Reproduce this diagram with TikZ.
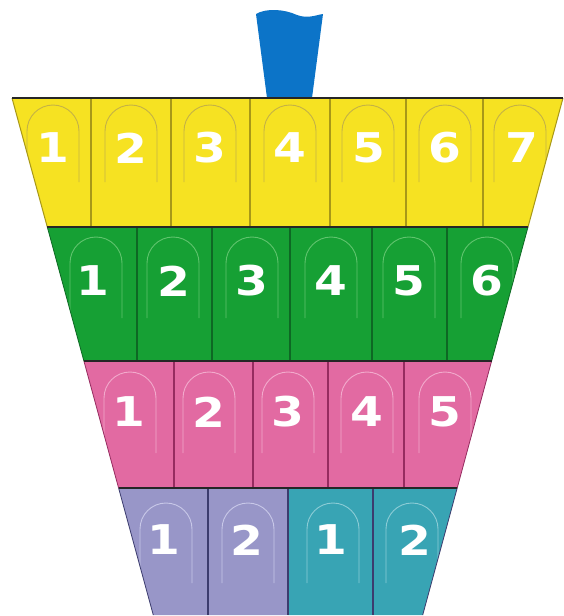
\documentclass[tikz,border=0pt]{standalone}
\usepackage{fontspec}
\newfontfamily\digfont{DejaVu Sans}
\definecolor{flagblue}{RGB}{12,116,200}
\definecolor{rowyellow}{RGB}{246,226,34}
\definecolor{rowgreen}{RGB}{22,160,52}
\definecolor{rowpink}{RGB}{226,106,162}
\definecolor{rowlav}{RGB}{152,150,200}
\definecolor{rowteal}{RGB}{56,164,180}
\definecolor{divyellow}{RGB}{168,152,24}
\definecolor{divgreen}{RGB}{14,104,36}
\definecolor{divpink}{RGB}{150,44,96}
\definecolor{divbot}{RGB}{60,60,110}
\definecolor{archyellow}{RGB}{196,178,70}
\definecolor{archgreen}{RGB}{96,196,110}
\definecolor{archpink}{RGB}{242,170,204}
\definecolor{archlav}{RGB}{200,200,232}
\definecolor{archteal}{RGB}{140,204,214}
\tikzset{
  digit/.style={text=white, inner sep=0pt, xscale=1.15,
    font=\digfont\bfseries\fontsize{41}{41}\selectfont},
  rowedge/.style={draw=black!85, line width=1.1pt},
  divider/.style={line width=1.4pt},
  archline/.style={line width=0.9pt},
}
\newcommand{\archat}[4]{% cx, top, bottom, colour
  \draw[archline, #4] (#1-26,#3) -- (#1-26,#2+26) arc[start angle=180, end angle=360, radius=26] -- (#1+26,#3);}
\begin{document}
\begin{tikzpicture}[x=1pt, y=-1pt]
\useasboundingbox (0,0) rectangle (564,616);
\fill[white] (0,0) rectangle (564,616);
% flag
\fill[flagblue] (256,14) .. controls (266,8) and (284,9) .. (297,15)
  .. controls (308,19) and (316,15) .. (323,14) -- (312,98) -- (267,98) -- cycle;
% rows
\fill[rowyellow] (12,98) -- (563,98) -- (528,227) -- (47.3,227) -- cycle;
\fill[rowgreen] (47.3,227) -- (528,227) -- (491.6,361) -- (83.9,361) -- cycle;
\fill[rowpink] (83.9,361) -- (491.6,361) -- (457.2,488) -- (118.6,488) -- cycle;
\fill[rowlav] (118.6,488) -- (288,488) -- (288,615) -- (153.3,615) -- cycle;
\fill[rowteal] (288,488) -- (457.2,488) -- (422.7,615) -- (288,615) -- cycle;
% dividers
\foreach \x in {91,171,250,330,406,483} \draw[divider, divyellow] (\x,98) -- (\x,227);
\foreach \x in {137,212,290,372,447} \draw[divider, divgreen] (\x,227) -- (\x,361);
\foreach \x in {174,253,328,404} \draw[divider, divpink] (\x,361) -- (\x,488);
\foreach \x in {208,288,373} \draw[divider, divbot] (\x,488) -- (\x,615);
% arches (clipped to the outline)
\begin{scope}
\clip (12,98) -- (563,98) -- (422.7,615) -- (153.3,615) -- cycle;
\foreach \x in {53,131,210,290,368,445,520} \archat{\x}{105}{182}{archyellow};
\foreach \x in {96,173,252,331,409,487} \archat{\x}{237}{318}{archgreen};
\foreach \x in {130,209,288,367,445} \archat{\x}{372}{453}{archpink};
\foreach \x in {166,248} \archat{\x}{503}{583}{archlav};
\foreach \x in {333,412} \archat{\x}{503}{583}{archteal};
\end{scope}
% outlines
\draw[divyellow, line width=1pt] (12,98) -- (47.3,227) (563,98) -- (528,227);
\draw[divgreen, line width=0.8pt] (47.3,227) -- (83.9,361) (528,227) -- (491.6,361);
\draw[divpink, line width=0.8pt] (83.9,361) -- (118.6,488) (491.6,361) -- (457.2,488);
\draw[divbot, line width=0.8pt] (118.6,488) -- (153.3,615) (457.2,488) -- (422.7,615);
\draw[rowedge] (12,98) -- (563,98);
\draw[rowedge] (47.3,227) -- (528,227);
\draw[rowedge] (83.9,361) -- (491.6,361);
\draw[rowedge] (118.6,488) -- (457.2,488);
% digits
\foreach \n/\x in {1/53,2/131,3/210,4/290,5/369,6/445,7/522}
  \node[digit] (y\n) at (\x,148) {\n};
\foreach \n/\x in {1/93,2/174,3/252,4/331,5/409,6/487}
  \node[digit] (g\n) at (\x,281) {\n};
\foreach \n/\x in {1/129,2/209,3/288,4/367,5/445}
  \node[digit] (p\n) at (\x,412) {\n};
\node[digit] (l1) at (164,540) {1};
\node[digit] (l2) at (247,540) {2};
\node[digit] (t1) at (331,540) {1};
\node[digit] (t2) at (415,540) {2};
\end{tikzpicture}
\end{document}
